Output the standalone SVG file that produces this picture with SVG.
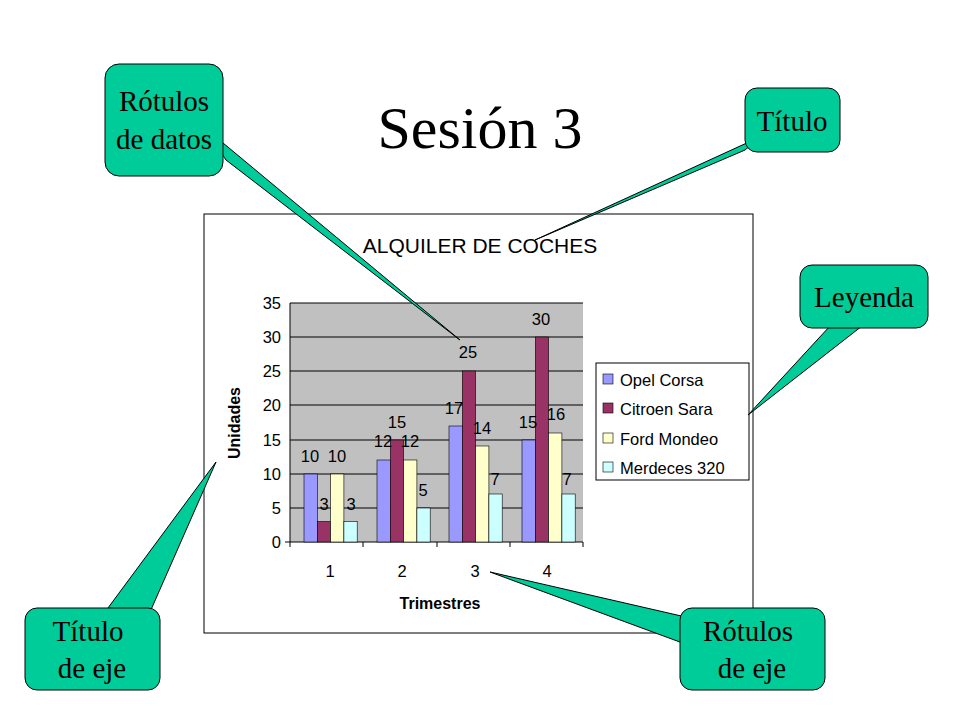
<svg xmlns="http://www.w3.org/2000/svg" width="960" height="720" viewBox="0 0 960 720">
<style>
.co{fill:#00CC99;stroke:#000;stroke-width:1}
.ct{font-family:"Liberation Serif",serif;font-size:29px;text-anchor:middle}
.s{font-family:"Liberation Sans",Arial,sans-serif;font-size:16.5px}
.g{stroke:#000;stroke-width:1}
.b{stroke:#000;stroke-width:0.6}
.o{fill:#9999FF}.c{fill:#993366}.f{fill:#FFFFCC}.m{fill:#CCFFFF}
</style>
<rect width="960" height="720" fill="#fff"/>
<text x="480" y="148" font-family="Liberation Serif,serif" font-size="60" text-anchor="middle">Sesión 3</text>
<g id="chart">
<rect x="204" y="214" width="549" height="419" fill="#fff" stroke="#000"/>
<text x="480" y="253" font-family="Liberation Sans,Arial,sans-serif" font-size="21" text-anchor="middle">ALQUILER DE COCHES</text>
<rect x="290" y="303" width="293" height="239" fill="#C0C0C0"/>
<g class="g">
<line x1="290" y1="303" x2="583" y2="303"/><line x1="290" y1="337" x2="583" y2="337"/><line x1="290" y1="371" x2="583" y2="371"/><line x1="290" y1="405" x2="583" y2="405"/><line x1="290" y1="440" x2="583" y2="440"/><line x1="290" y1="474" x2="583" y2="474"/><line x1="290" y1="508" x2="583" y2="508"/>
<line x1="290" y1="303" x2="290" y2="542"/><line x1="285" y1="542" x2="583" y2="542"/>
<line x1="290" y1="542" x2="290" y2="547"/><line x1="363" y1="542" x2="363" y2="547"/><line x1="437" y1="542" x2="437" y2="547"/><line x1="510" y1="542" x2="510" y2="547"/><line x1="583" y1="542" x2="583" y2="547"/>
</g>
<g class="s" text-anchor="end">
<text x="281" y="309">35</text><text x="281" y="343">30</text><text x="281" y="377">25</text><text x="281" y="411">20</text><text x="281" y="446">15</text><text x="281" y="480">10</text><text x="281" y="514">5</text><text x="281" y="548">0</text>
</g>
<g class="s" text-anchor="middle">
<text x="330" y="577">1</text><text x="402" y="577">2</text><text x="475" y="577">3</text><text x="547" y="577">4</text>
</g>
<text x="440" y="609" font-family="Liberation Sans,Arial,sans-serif" font-size="16" font-weight="bold" text-anchor="middle">Trimestres</text>
<text transform="translate(240,423) rotate(-90)" font-family="Liberation Sans,Arial,sans-serif" font-size="16" font-weight="bold" text-anchor="middle">Unidades</text>
<g class="b">
<rect class="o" x="304" y="474" width="13.3" height="68"/><rect class="c" x="317.3" y="521.5" width="13.3" height="20.5"/><rect class="f" x="330.6" y="474" width="13.3" height="68"/><rect class="m" x="343.9" y="521.5" width="13.3" height="20.5"/>
<rect class="o" x="377" y="460" width="13.3" height="82"/><rect class="c" x="390.3" y="440" width="13.3" height="102"/><rect class="f" x="403.6" y="460" width="13.3" height="82"/><rect class="m" x="416.9" y="508" width="13.3" height="34"/>
<rect class="o" x="449" y="426" width="13.3" height="116"/><rect class="c" x="462.3" y="371" width="13.3" height="171"/><rect class="f" x="475.6" y="446" width="13.3" height="96"/><rect class="m" x="488.9" y="494" width="13.3" height="48"/>
<rect class="o" x="522" y="440" width="13.3" height="102"/><rect class="c" x="535.3" y="337" width="13.3" height="205"/><rect class="f" x="548.6" y="433" width="13.3" height="109"/><rect class="m" x="561.9" y="494" width="13.3" height="48"/>
</g>
<g class="s" text-anchor="middle">
<text x="310" y="462">10</text><text x="324" y="510">3</text><text x="337" y="462">10</text><text x="351" y="510">3</text>
<text x="383" y="447">12</text><text x="397" y="428">15</text><text x="410" y="447">12</text><text x="423" y="496">5</text>
<text x="454" y="414">17</text><text x="468" y="358">25</text><text x="482" y="434">14</text><text x="495" y="485">7</text>
<text x="528" y="428">15</text><text x="541" y="325">30</text><text x="556" y="420">16</text><text x="567" y="485">7</text>
</g>
<rect x="596" y="363" width="153" height="117" fill="#fff" stroke="#000"/>
<g class="b">
<rect class="o" x="603" y="374" width="10" height="10"/><rect class="c" x="603" y="403" width="10" height="10"/><rect class="f" x="603" y="433" width="10" height="10"/><rect class="m" x="603" y="462" width="10" height="10"/>
</g>
<g class="s">
<text x="620" y="386">Opel Corsa</text><text x="620" y="415">Citroen Sara</text><text x="620" y="445">Ford Mondeo</text><text x="620" y="474">Merdeces 320</text>
</g>
</g>
<g id="connectors">
<polygon class="co" points="205,128 226,160 460,340"/>
<polygon class="co" points="762,136 745,150 535,240"/>
<polygon class="co" points="830,326 862,326 748,415"/>
<polygon class="co" points="105,612 150,612 216,462"/>
<polygon class="co" points="690,618 688,645 490,572"/>
</g>
<g id="c1"><rect class="co" x="105" y="64" width="118" height="112" rx="14"/><text class="ct" x="164" y="111">Rótulos</text><text class="ct" x="164" y="149">de datos</text></g>
<g id="c2"><rect class="co" x="745" y="88" width="95" height="64" rx="12"/><text class="ct" x="792" y="131">Título</text></g>
<g id="c3"><rect class="co" x="800" y="265" width="128" height="63" rx="12"/><text class="ct" x="864" y="307">Leyenda</text></g>
<g id="c4"><rect class="co" x="25" y="608" width="135" height="82" rx="12"/><text class="ct" x="88" y="641">Título</text><text class="ct" x="92" y="678">de eje</text></g>
<g id="c5"><rect class="co" x="680" y="608" width="145" height="82" rx="12"/><text class="ct" x="748" y="641">Rótulos</text><text class="ct" x="752" y="678">de eje</text></g>
</svg>
